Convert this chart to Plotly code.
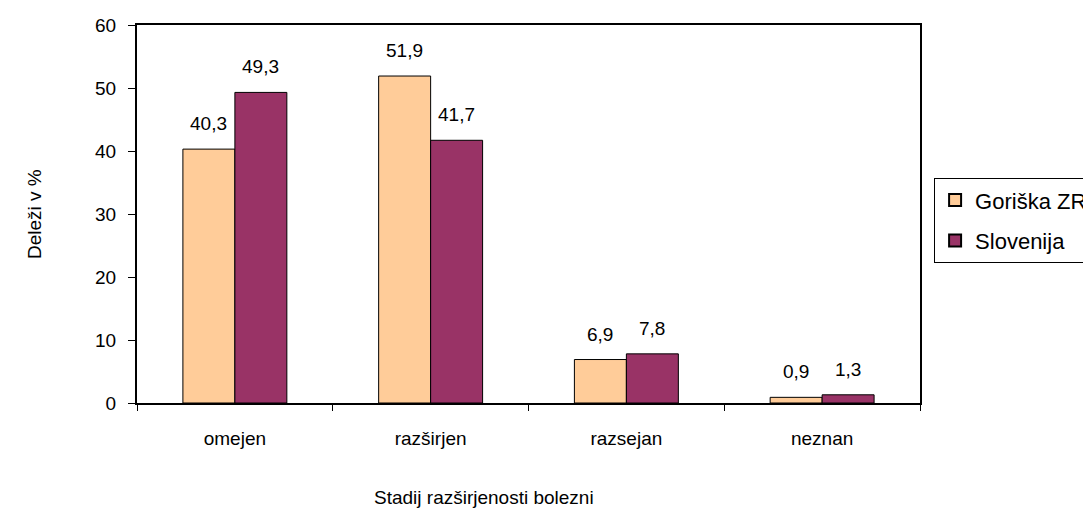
import plotly.graph_objects as go

categories = ["omejen", "razširjen", "razsejan", "neznan"]
goriska = [40.3, 51.9, 6.9, 0.9]
slovenija = [49.3, 41.7, 7.8, 1.3]
series_names = ["Goriška ZR", "Slovenija"]
y_ticks = [0, 10, 20, 30, 40, 50, 60]

FONT = "Liberation Sans, Arial, sans-serif"
FS = 19
LFS = 22

def fmt(v):
    return f"{v:.1f}".replace(".", ",")

fig = go.Figure()
fig.add_trace(go.Bar(x=categories, y=goriska, name=series_names[0], legendgroup="g1",
                     marker=dict(color="#FFCC99", line=dict(color="black", width=1))))
fig.add_trace(go.Bar(x=categories, y=slovenija, name=series_names[1], legendgroup="g2",
                     marker=dict(color="#993366", line=dict(color="black", width=1))))

annotations = []
for vals, shift in ((goriska, -26), (slovenija, 26)):
    for c, v in zip(categories, vals):
        annotations.append(dict(x=c, y=v, xref="x", yref="y", text=fmt(v),
                                showarrow=False, xshift=shift, yshift=13,
                                yanchor="bottom", font=dict(size=FS, color="black", family=FONT)))
annotations.append(dict(x=0.5, y=0, xref="paper", yref="paper", text="Stadij razširjenosti bolezni",
                        showarrow=False, xshift=-45, yshift=-94, yanchor="middle",
                        font=dict(size=FS, color="black", family=FONT)))
annotations.append(dict(x=0, y=0.5, xref="paper", yref="paper", text="Deleži v %",
                        showarrow=False, xshift=-103, textangle=-90, xanchor="center",
                        font=dict(size=FS, color="black", family=FONT)))

fig.update_layout(
    width=1083, height=500,
    margin=dict(l=129, r=171, t=17, b=105, autoexpand=False),
    paper_bgcolor="white", plot_bgcolor="white",
    barmode="group", bargap=0.469, bargroupgap=0,
    font=dict(family=FONT, size=FS, color="black"),
    showlegend=True,
    legend=dict(x=1.018, y=0.37, xanchor="left", yanchor="bottom",
                bordercolor="black", borderwidth=1, bgcolor="white",
                font=dict(size=LFS, family=FONT, color="black"),
                tracegroupgap=9, itemsizing="constant"),
    annotations=annotations,
)
fig.update_xaxes(showline=True, linecolor="black", linewidth=2, mirror=True,
                 ticks="outside", tickson="boundaries", ticklen=6, tickcolor="black", tickwidth=1,
                 showgrid=False, ticklabelstandoff=17)
fig.update_yaxes(range=[0, 60], tickvals=y_ticks, showline=True, linecolor="black", linewidth=2,
                 mirror=True, ticks="outside", ticklen=7, tickcolor="black", tickwidth=1,
                 showgrid=False, zeroline=False, ticklabelstandoff=8)

fig.write_html("out.html")
